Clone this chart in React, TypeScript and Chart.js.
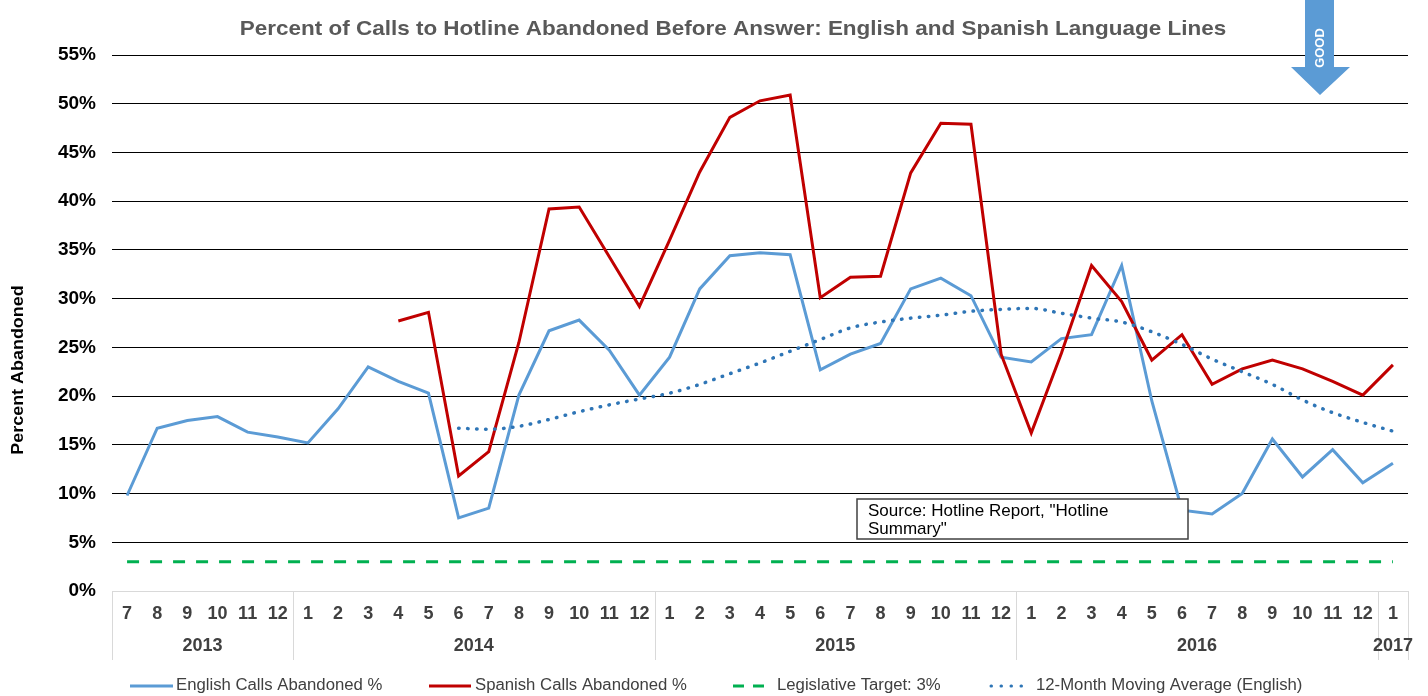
import React, { useEffect, useRef } from 'react';
import { Chart, registerables } from 'chart.js';

Chart.register(...registerables);

const FONT = "'Liberation Sans', Arial, Helvetica, sans-serif";

const chartTitle = 'Percent of Calls to Hotline Abandoned Before Answer: English and Spanish Language Lines';
const yAxisTitle = 'Percent Abandoned';

const monthLabels = [
  '7', '8', '9', '10', '11', '12',
  '1', '2', '3', '4', '5', '6', '7', '8', '9', '10', '11', '12',
  '1', '2', '3', '4', '5', '6', '7', '8', '9', '10', '11', '12',
  '1', '2', '3', '4', '5', '6', '7', '8', '9', '10', '11', '12',
  '1',
];
const yearLabels = ['2013', '2014', '2015', '2016', '2017'];
const yearMonthCounts = [6, 12, 12, 12, 1];

const englishPct = [
  9.8, 16.7, 17.5, 17.9, 16.3, 15.8,
  15.2, 18.7, 23.0, 21.5, 20.3, 7.5, 8.5, 20.1, 26.7, 27.8, 24.7, 20.1,
  24.0, 31.0, 34.4, 34.7, 34.5, 22.7, 24.3, 25.4, 31.0, 32.1, 30.3, 24.0,
  23.5, 25.9, 26.3, 33.4, 19.5, 8.3, 7.9, 10.0, 15.6, 11.7, 14.5, 11.1,
  13.1,
];
const spanishPct = [
  null, null, null, null, null, null,
  null, null, null, 27.7, 28.6, 11.8, 14.3, 25.5, 39.2, 39.4, 34.3, 29.2,
  36.0, 43.0, 48.6, 50.3, 50.9, 30.1, 32.2, 32.3, 42.9, 48.0, 47.9, 24.3,
  16.2, 24.4, 33.4, 29.7, 23.7, 26.3, 21.2, 22.8, 23.7, 22.8, 21.5, 20.1,
  23.2,
];
const movingAvgPct = [
  null, null, null, null, null, null,
  null, null, null, null, null, 16.7, 16.6, 16.9, 17.6, 18.4, 19.1, 19.7,
  20.3, 21.2, 22.3, 23.4, 24.6, 25.8, 27.0, 27.6, 28.0, 28.3, 28.7, 28.9,
  29.0, 28.5, 28.0, 27.6, 26.6, 25.3, 23.8, 22.5, 21.2, 19.6, 18.3, 17.3,
  16.4,
];
const legislativeTarget = 3;
const targetPct = monthLabels.map(() => legislativeTarget);

const seriesNames = [
  'English Calls Abandoned %',
  'Spanish Calls Abandoned %',
  'Legislative Target: 3%',
  '12-Month Moving Average (English)',
];

const sourceNoteLines = ['Source: Hotline Report, "Hotline', 'Summary"'];
const arrowText = 'GOOD';

const BLUE = '#5B9BD5';
const RED = '#C00000';
const GREEN = '#00B050';
const DOT_BLUE = '#2E75B6';

function drawText(ctx: any, text: string, x: number, y: number, font: string, color: string, align: string, hscale: number, rot = 0) {
  ctx.save();
  ctx.translate(x, y);
  if (rot) ctx.rotate(rot);
  ctx.scale(hscale, 1);
  ctx.font = font;
  ctx.fillStyle = color;
  ctx.textAlign = align;
  ctx.textBaseline = 'middle';
  ctx.fillText(text, 0, 0);
  ctx.restore();
}

const overlayPlugin = {
  id: 'overlay',
  afterDraw(chart: any) {
    const { ctx, chartArea, scales } = chart;
    const xs = scales.x;
    const step = (chartArea.right - chartArea.left) / monthLabels.length;
    ctx.save();

    // Title
    drawText(ctx, chartTitle, 733, 29, `bold 21px ${FONT}`, '#595959', 'center', 1.07);

    // Y-axis title
    drawText(ctx, yAxisTitle, 18, 370, `bold 17px ${FONT}`, '#000', 'center', 1.055, -Math.PI / 2);

    // Year separators and year labels
    const bounds = [0];
    yearMonthCounts.forEach((c) => bounds.push(bounds[bounds.length - 1] + c));
    ctx.strokeStyle = '#d9d9d9';
    ctx.lineWidth = 1;
    bounds.forEach((b) => {
      const px = b < monthLabels.length ? xs.getPixelForValue(b) - step / 2 : xs.getPixelForValue(b - 1) + step / 2;
      const rx = Math.round(px) + 0.5;
      ctx.beginPath();
      ctx.moveTo(rx, chartArea.bottom);
      ctx.lineTo(rx, chartArea.bottom + 69);
      ctx.stroke();
    });
    yearLabels.forEach((y, i) => {
      const cx = (xs.getPixelForValue(bounds[i]) + xs.getPixelForValue(bounds[i + 1] - 1)) / 2;
      drawText(ctx, y, cx, chartArea.bottom + 55, `bold 18px ${FONT}`, '#404040', 'center', 1);
    });

    // Source note box
    ctx.fillStyle = '#fff';
    ctx.fillRect(857, 499, 331, 40);
    ctx.strokeStyle = '#404040';
    ctx.lineWidth = 1.5;
    ctx.strokeRect(857, 499, 331, 40);
    drawText(ctx, sourceNoteLines[0], 868, 511, `17px ${FONT}`, '#000', 'left', 1);
    drawText(ctx, sourceNoteLines[1], 868, 529, `17px ${FONT}`, '#000', 'left', 1);

    // GOOD arrow
    ctx.fillStyle = BLUE;
    ctx.beginPath();
    ctx.moveTo(1305, 0);
    ctx.lineTo(1334, 0);
    ctx.lineTo(1334, 67);
    ctx.lineTo(1350, 67);
    ctx.lineTo(1320, 95);
    ctx.lineTo(1291, 67);
    ctx.lineTo(1305, 67);
    ctx.closePath();
    ctx.fill();
    drawText(ctx, arrowText, 1320, 48, `bold 13px ${FONT}`, '#fff', 'center', 1, -Math.PI / 2);

    // Legend
    const ly = 686;
    const items = [
      { x1: 130, x2: 173, tx: 176, color: BLUE, dash: [], w: 3, cap: 'butt' },
      { x1: 429, x2: 471, tx: 475, color: RED, dash: [], w: 3, cap: 'butt' },
      { x1: 733, x2: 771, tx: 777, color: GREEN, dash: [11, 9], w: 3, cap: 'butt' },
      { x1: 991, x2: 1031, tx: 1036, color: DOT_BLUE, dash: [0.5, 9.5], w: 3, cap: 'round' },
    ];
    items.forEach((it, i) => {
      ctx.strokeStyle = it.color;
      ctx.lineWidth = it.w;
      ctx.lineCap = it.cap;
      ctx.setLineDash(it.dash);
      ctx.beginPath();
      ctx.moveTo(it.x1, ly);
      ctx.lineTo(it.x2, ly);
      ctx.stroke();
      ctx.setLineDash([]);
      ctx.lineCap = 'butt';
      drawText(ctx, seriesNames[i], it.tx, ly, `16px ${FONT}`, '#404040', 'left', 1.045);
    });

    ctx.restore();
  },
};

export default function App() {
  const canvasRef = useRef<HTMLCanvasElement | null>(null);

  useEffect(() => {
    if (!canvasRef.current) return;
    const chart = new Chart(canvasRef.current, {
      type: 'line',
      data: {
        labels: monthLabels,
        datasets: [
          {
            label: seriesNames[0],
            data: englishPct,
            borderColor: BLUE,
            borderWidth: 3,
            pointRadius: 0,
            tension: 0,
            order: 2,
          },
          {
            label: seriesNames[1],
            data: spanishPct,
            borderColor: RED,
            borderWidth: 3,
            pointRadius: 0,
            tension: 0,
            spanGaps: false,
            order: 1,
          },
          {
            label: seriesNames[2],
            data: targetPct,
            borderColor: GREEN,
            borderWidth: 3,
            borderDash: [12, 11],
            pointRadius: 0,
            order: 3,
          },
          {
            label: seriesNames[3],
            data: movingAvgPct,
            borderColor: DOT_BLUE,
            borderWidth: 3.5,
            borderDash: [0.5, 8.5],
            borderCapStyle: 'round',
            pointRadius: 0,
            tension: 0.4,
            cubicInterpolationMode: 'monotone',
            order: 0,
          },
        ],
      },
      options: {
        responsive: false,
        animation: false,
        layout: { padding: { top: 55, right: 20, left: 0, bottom: 0 } },
        plugins: {
          legend: { display: false },
          title: { display: false },
          tooltip: { enabled: false },
        },
        scales: {
          x: {
            type: 'category',
            offset: true,
            grid: { display: false, drawTicks: false },
            border: { display: false },
            ticks: {
              autoSkip: false,
              maxRotation: 0,
              minRotation: 0,
              padding: 12,
              color: '#404040',
              font: { family: FONT, size: 18, weight: 'bold' },
            },
            afterFit: (s: any) => { s.height = 105; },
          },
          y: {
            min: 0,
            max: 55,
            ticks: {
              stepSize: 5,
              padding: 16,
              color: '#000',
              font: { family: FONT, size: 19, weight: 'bold' },
              callback: (v: any) => `${v}%`,
            },
            grid: {
              drawTicks: false,
              color: (c: any) => (c.tick && c.tick.value === 0 ? '#d9d9d9' : '#000'),
              lineWidth: 1,
            },
            border: { display: false },
            afterFit: (s: any) => { s.width = 112; },
          },
        },
      },
      plugins: [overlayPlugin],
    });
    return () => chart.destroy();
  }, []);

  return (
    <div style={{ position: 'absolute', left: 0, top: 0, width: 1428, height: 696, background: '#fff' }}>
      <canvas ref={canvasRef} width={1428} height={696} style={{ display: 'block' }} />
    </div>
  );
}
